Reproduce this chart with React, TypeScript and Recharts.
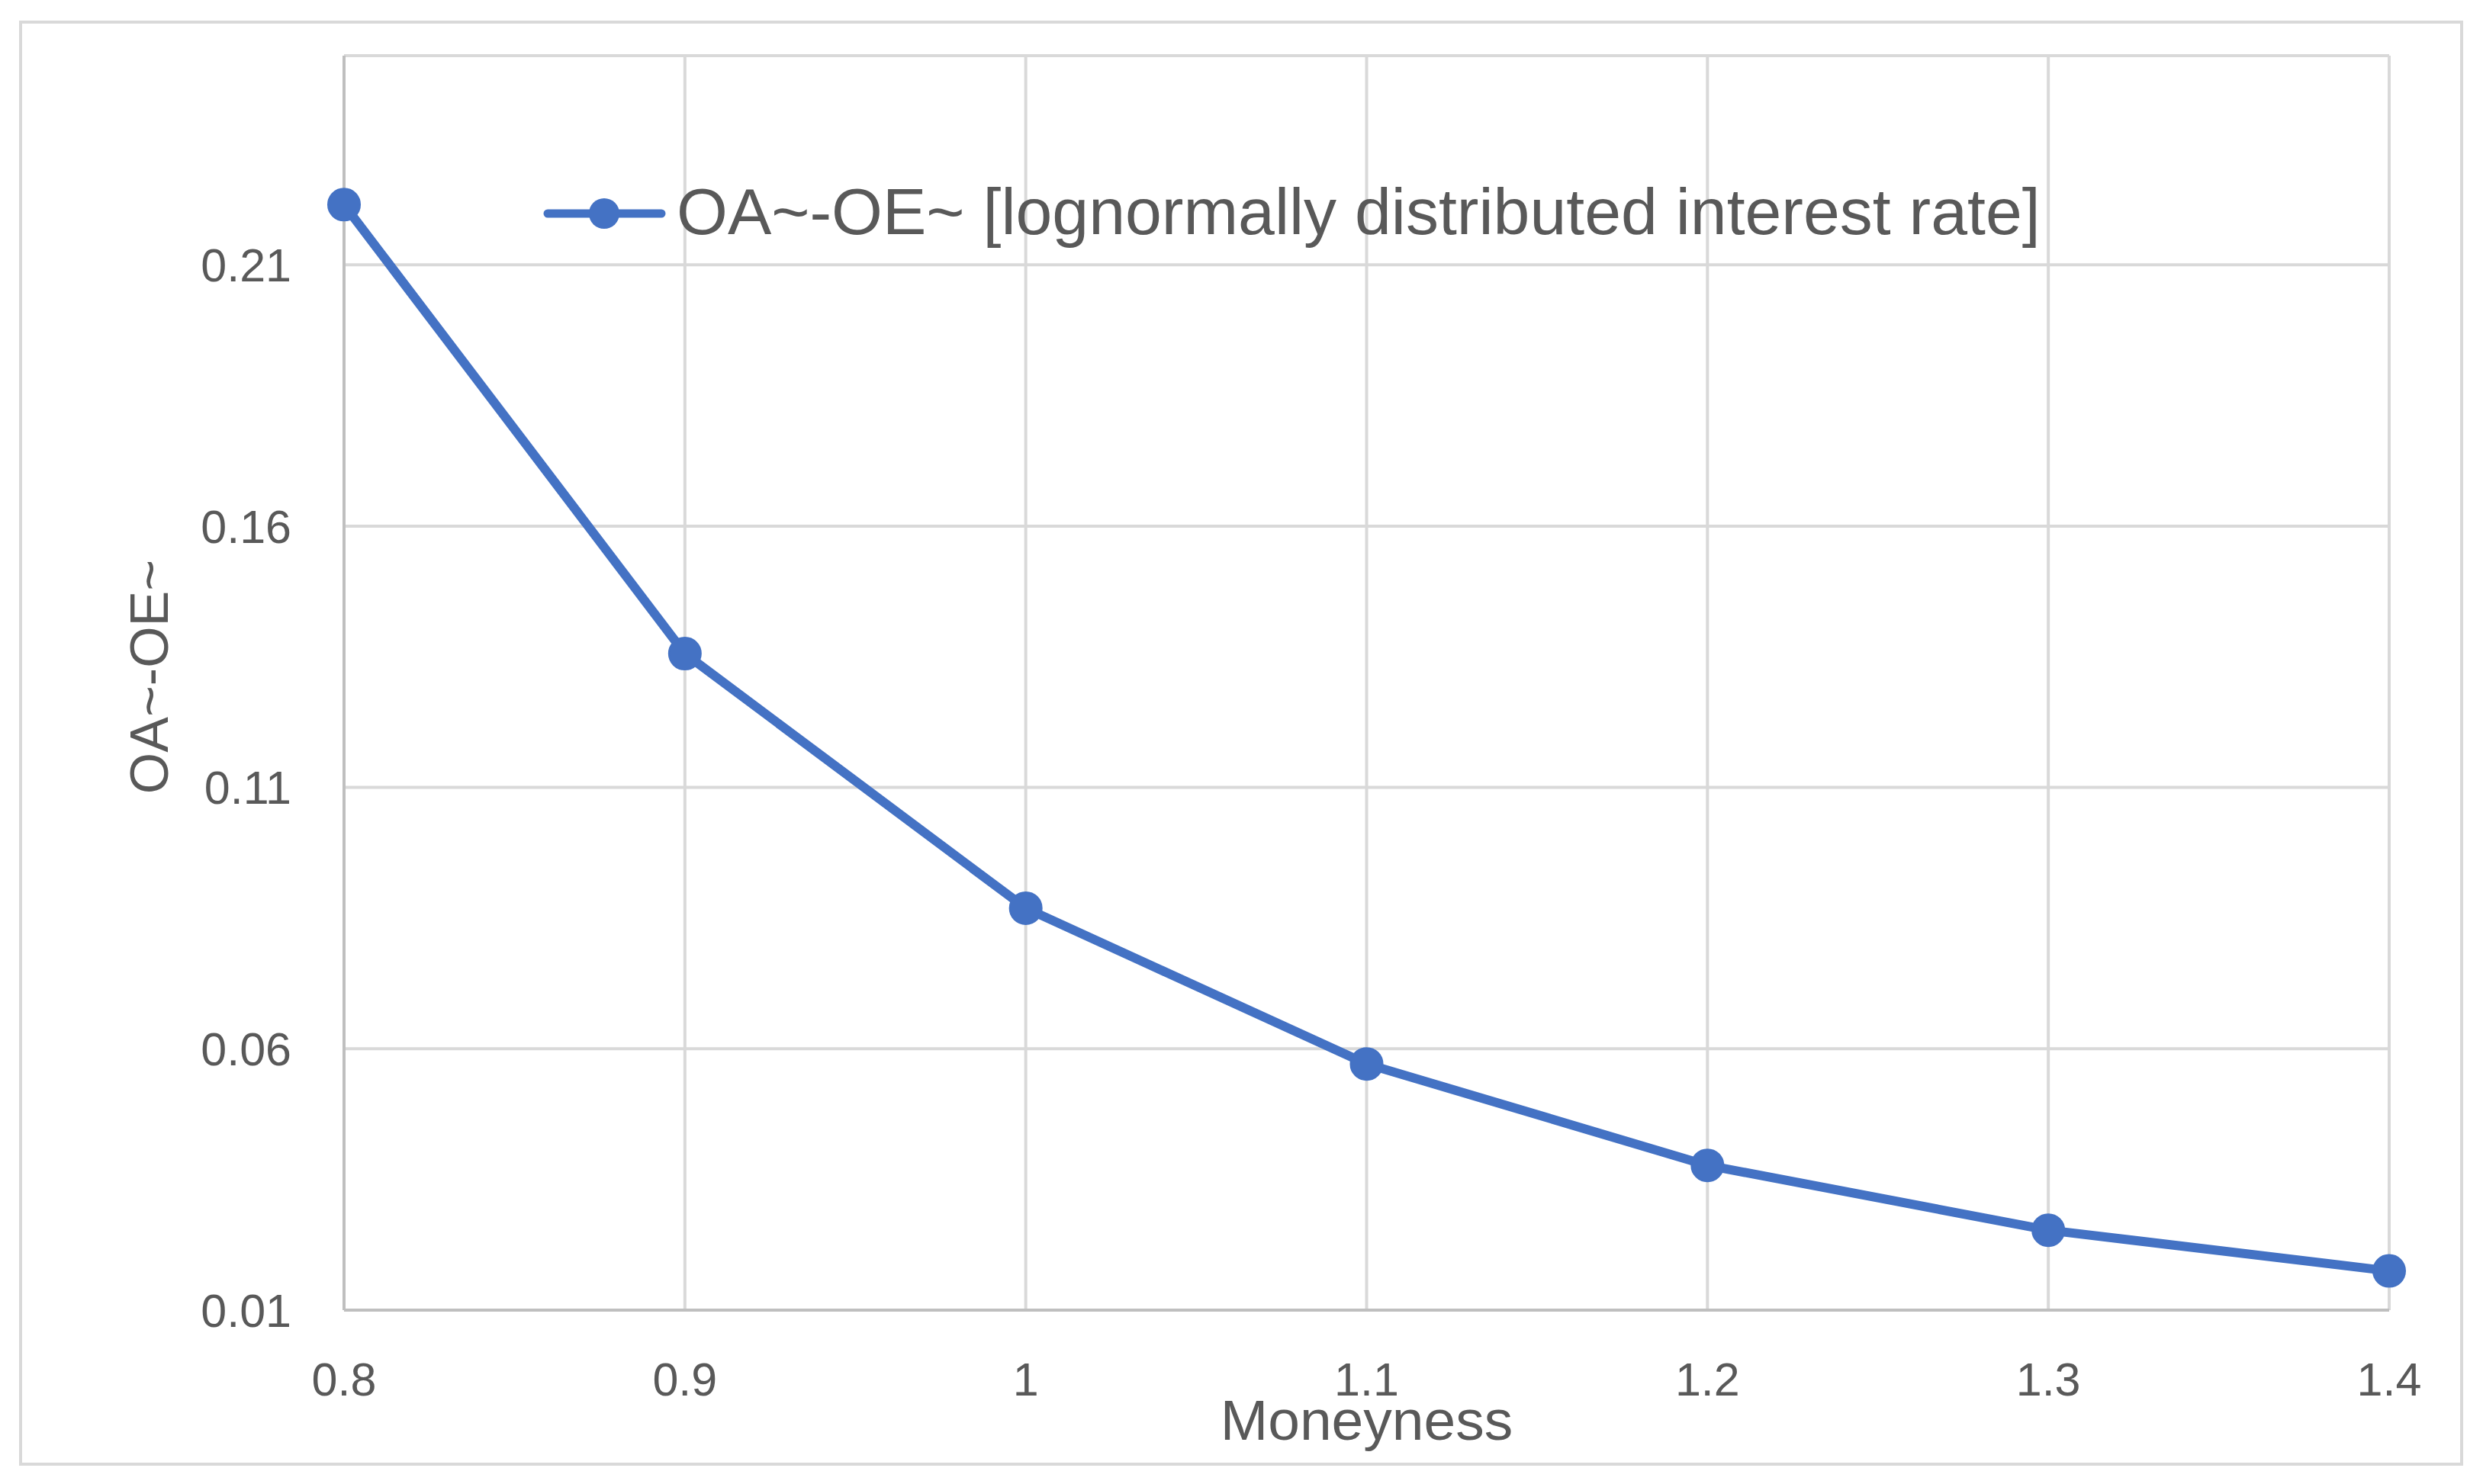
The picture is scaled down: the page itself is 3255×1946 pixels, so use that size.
import { LineChart, Line, XAxis, YAxis, CartesianGrid, Legend, Label } from "recharts";

const moneyness = [0.8, 0.9, 1, 1.1, 1.2, 1.3, 1.4];
const spread = [0.2215, 0.1356, 0.0869, 0.0571, 0.0377, 0.0253, 0.0175];
const yTicks = [0.01, 0.06, 0.11, 0.16, 0.21];
const seriesName = "OA~-OE~ [lognormally distributed interest rate]";

const BLUE = "#4472C4";
const TEXT = "#595959";
const FONT = "'Liberation Sans', Arial, sans-serif";

const data = moneyness.map((m, i) => ({ x: m, y: spread[i] }));

const renderLegend = () => (
  <div style={{ display: "flex", alignItems: "center", fontFamily: FONT }}>
    <svg width={175} height={86}>
      <line x1={6} y1={46} x2={155} y2={46} stroke={BLUE} strokeWidth={11} strokeLinecap="round" />
      <circle cx={80} cy={46} r={20} fill={BLUE} />
    </svg>
    <span style={{ fontSize: 86, lineHeight: "86px", color: TEXT, whiteSpace: "nowrap" }}>{seriesName}</span>
  </div>
);

export default function App() {
  return (
    <div style={{ position: "absolute", left: 0, top: 0, width: 3255, height: 1946, background: "#fff" }}>
      <div
        style={{
          position: "absolute",
          left: 25,
          top: 27,
          width: 3204,
          height: 1895,
          border: "4px solid #D9D9D9",
          boxSizing: "border-box",
        }}
      />
      <div style={{ position: "absolute", left: 0, top: 0 }}>
        <LineChart width={3255} height={1946} data={data} margin={{ top: 73, right: 123, bottom: 128, left: 251 }}>
          <CartesianGrid stroke="#D9D9D9" strokeWidth={4} />
          <XAxis
            dataKey="x"
            type="number"
            domain={[0.8, 1.4]}
            ticks={moneyness}
            tickFormatter={(v: number) => String(+v.toFixed(1))}
            height={100}
            tickLine={false}
            tickSize={0}
            tickMargin={69}
            axisLine={{ stroke: "#BFBFBF", strokeWidth: 4 }}
            tick={{ fill: TEXT, fontSize: 61, fontFamily: FONT }}
          >
            <Label
              content={({ viewBox }: any) => (
                <text
                  x={viewBox.x + viewBox.width / 2}
                  y={viewBox.y + 170}
                  textAnchor="middle"
                  fill={TEXT}
                  fontSize={75}
                  fontFamily={FONT}
                >
                  Moneyness
                </text>
              )}
            />
          </XAxis>
          <YAxis
            type="number"
            domain={[0.01, 0.25]}
            ticks={yTicks}
            allowDataOverflow
            width={200}
            tickLine={false}
            tickSize={0}
            tickMargin={69}
            axisLine={{ stroke: "#BFBFBF", strokeWidth: 4 }}
            tick={{ fill: TEXT, fontSize: 61, fontFamily: FONT }}
          >
            <Label
              content={({ viewBox }: any) => (
                <text
                  x={220}
                  y={viewBox.y + viewBox.height / 2 - 8}
                  transform={`rotate(-90 220 ${viewBox.y + viewBox.height / 2 - 8})`}
                  textAnchor="middle"
                  fill={TEXT}
                  fontSize={70}
                  fontFamily={FONT}
                >
                  OA~-OE~
                </text>
              )}
            />
          </YAxis>
          <Legend
            layout="horizontal"
            verticalAlign="middle"
            align="center"
            content={renderLegend}
            wrapperStyle={{ position: "absolute", left: 712, top: 234, width: 2300, height: 90 }}
          />
          <Line
            type="linear"
            dataKey="y"
            name={seriesName}
            stroke={BLUE}
            strokeWidth={12}
            dot={{ r: 21, fill: BLUE, stroke: BLUE, strokeWidth: 2 }}
            activeDot={false}
            isAnimationActive={false}
          />
        </LineChart>
      </div>
    </div>
  );
}
